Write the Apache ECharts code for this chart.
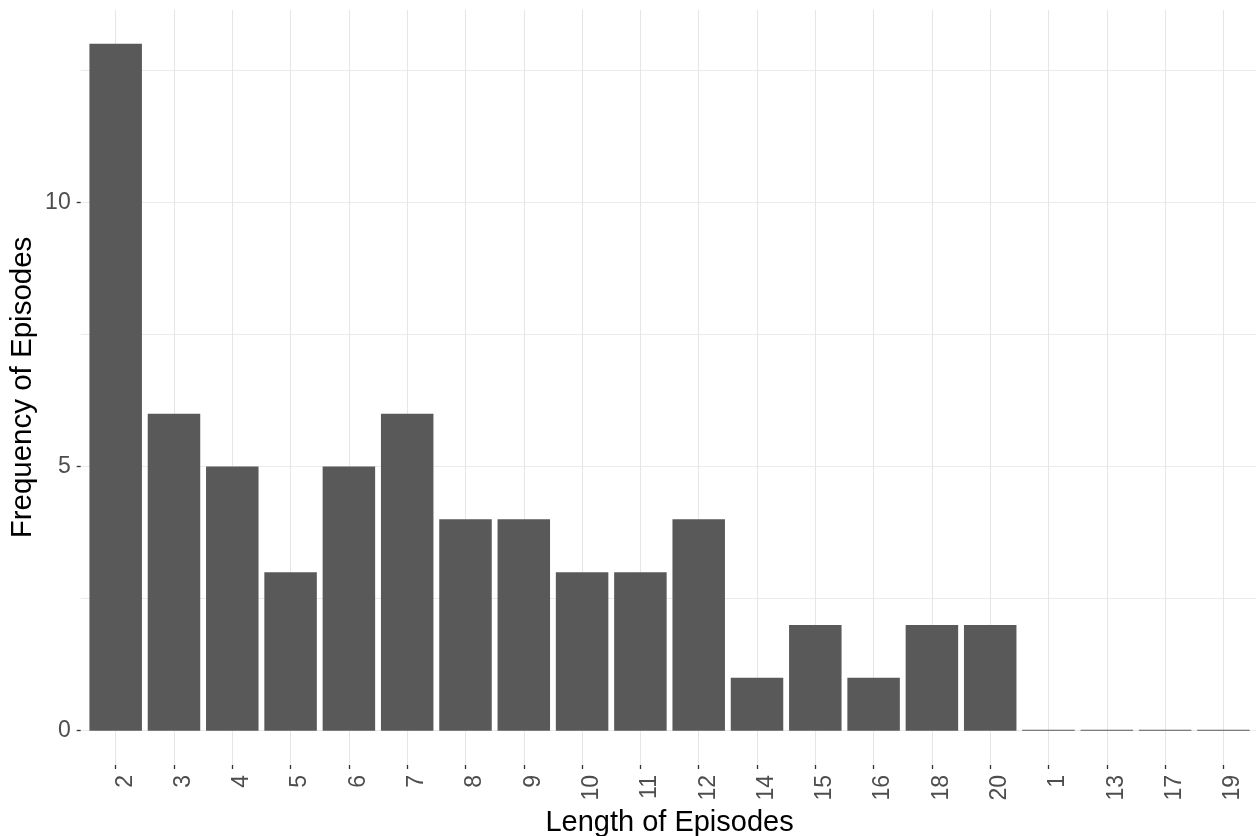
<!DOCTYPE html>
<html>
<head>
<meta charset="utf-8">
<script src="https://cdn.jsdelivr.net/npm/echarts@6/dist/echarts.min.js"></script>
<style>
html,body{margin:0;padding:0;background:#fff;}
#chart{width:1256px;height:836px;}
</style>
</head>
<body>
<div id="chart"></div>
<script>
const categories = ['2','3','4','5','6','7','8','9','10','11','12','14','15','16','18','20','1','13','17','19'];
const frequencies = [13,6,5,3,5,6,4,4,3,3,4,1,2,1,2,2,0,0,0,0];
const xTitle = 'Length of Episodes';
const yTitle = 'Frequency of Episodes';

const FONT = '"Liberation Sans", Arial, Helvetica, sans-serif';
const chart = echarts.init(document.getElementById('chart'), null, {renderer: 'canvas'});

const barData = frequencies.map((v, i) => [i, v]);

chart.setOption({
  backgroundColor: '#ffffff',
  animation: false,
  grid: [
    // bars + horizontal grid lines
    {left: 80.7, width: 1177.7, top: -61.9, height: 792.6, containLabel: false, outerBoundsMode: 'none'},
    // vertical grid lines, x labels, titles
    {left: 115.7, width: 1107.7, top: 10, height: 755, containLabel: false, outerBoundsMode: 'none'}
  ],
  xAxis: [
    {gridIndex: 0, type: 'value', min: -0.6, max: 19.6, show: false},
    {
      gridIndex: 1, type: 'category', data: categories, boundaryGap: false,
      axisLine: {show: false},
      axisTick: {show: true, length: 4, interval: 0, lineStyle: {color: '#333333', width: 1.3}},
      axisLabel: {
        show: true, interval: 0, rotate: 90, margin: 10,
        verticalAlign: 'top', lineHeight: 19,
        color: '#4d4d4d', fontSize: 23, fontFamily: FONT
      },
      splitLine: {show: true, interval: 0, lineStyle: {color: '#e6e6e6', width: 1.1}},
      name: xTitle, nameLocation: 'middle', nameGap: 37,
      nameTextStyle: {color: '#000000', fontSize: 29, fontFamily: FONT, lineHeight: 28}
    }
  ],
  yAxis: [
    {
      gridIndex: 0, type: 'value', min: 0, max: 15, interval: 5,
      axisLine: {show: false, onZero: false},
      axisTick: {show: true, length: 4, lineStyle: {color: '#333333', width: 1.3}},
      axisLabel: {show: true, margin: 10, color: '#4d4d4d', fontSize: 23, fontFamily: FONT},
      splitLine: {show: true, lineStyle: {color: '#ebebeb', width: 1.2}},
      minorTick: {show: false, splitNumber: 2},
      minorSplitLine: {show: true, lineStyle: {color: '#ebebeb', width: 1.0}}
    },
    {
      gridIndex: 1, type: 'value', min: 0, max: 1,
      axisLine: {show: false, onZero: false}, axisTick: {show: false}, axisLabel: {show: false},
      splitLine: {show: false},
      name: yTitle, nameLocation: 'middle', nameGap: 78.4,
      nameTextStyle: {color: '#000000', fontSize: 29.5, fontFamily: FONT, lineHeight: 28}
    }
  ],
  series: [
    {
      type: 'bar', xAxisIndex: 0, yAxisIndex: 0,
      data: barData,
      barWidth: 52.5,
      barMinHeight: 1,
      clip: false,
      itemStyle: {color: '#595959'},
      z: 5
    }
  ]
});
</script>
</body>
</html>
